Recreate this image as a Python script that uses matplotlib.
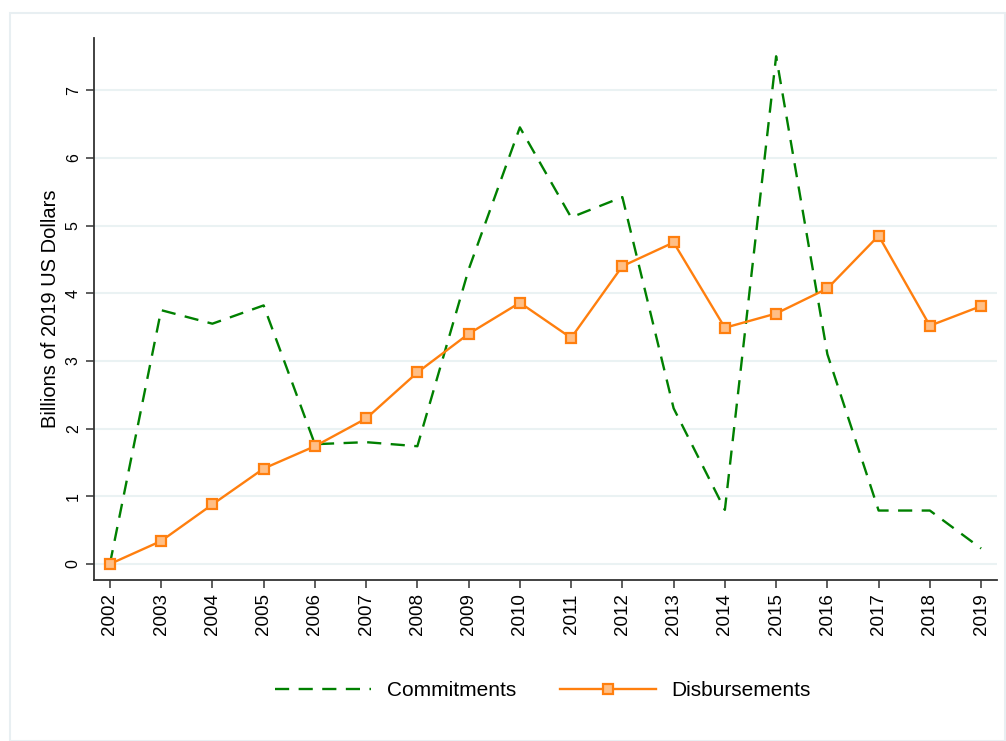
import matplotlib
matplotlib.use("Agg")
import matplotlib.pyplot as plt
from matplotlib.patches import Rectangle

years = list(range(2002, 2020))
commitments = [0.0, 3.75, 3.55, 3.82, 1.77, 1.80, 1.74, 4.35, 6.45, 5.12, 5.42, 2.30, 0.80, 7.50, 3.10, 0.79, 0.79, 0.23]
disbursements = [0.0, 0.34, 0.88, 1.41, 1.74, 2.15, 2.83, 3.40, 3.86, 3.34, 4.40, 4.75, 3.49, 3.70, 4.07, 4.85, 3.52, 3.81]
yticks = [0, 1, 2, 3, 4, 5, 6, 7]

plt.rcParams['font.family'] = ['Liberation Sans', 'DejaVu Sans']
fig = plt.figure(figsize=(10.06, 7.41), dpi=100)
fig.patches.append(Rectangle((10/1006, 0), 995/1006, (741-13)/741, transform=fig.transFigure,
                             fill=False, edgecolor='#e8eff2', linewidth=1.5))
ax = fig.add_axes([94/1006, (741-580)/741, (997-94)/1006, (580-38)/741])

ax.plot(years, commitments, color='#008000', linestyle=(0, (6, 4)), linewidth=1.7, label='Commitments')
ax.plot(years, disbursements, color='#ff7f0e', linewidth=1.7, marker='s', markersize=7,
        markerfacecolor='#ffbf86', markeredgecolor='#ff7f0e', markeredgewidth=1.6, label='Disbursements')

ax.set_xlim(2001.69, 2019.31)
ax.set_ylim(-0.236, 7.77)
ax.set_xticks(years)
ax.set_xticklabels([str(y) for y in years], rotation=90, fontsize=13.5)
ax.set_yticks(yticks)
ax.set_yticklabels([str(t) for t in yticks], rotation=90, fontsize=11.5, va='center')
ax.grid(axis='y', color='#eaf2f3', linewidth=1.5)
ax.set_axisbelow(True)
for s in ['top', 'right']:
    ax.spines[s].set_visible(False)
for s in ['left', 'bottom']:
    ax.spines[s].set_color('#333333')
    ax.spines[s].set_linewidth(1.3)
ax.tick_params(axis='both', length=6, width=1.1, color='#333333')
ax.set_ylabel('Billions of 2019 US Dollars', fontsize=14.5, labelpad=4)

fig.legend(loc='center', bbox_to_anchor=(543/1006, 1 - 691/741), ncol=2, frameon=False,
           fontsize=15, handlelength=4.6, columnspacing=2.1, handletextpad=0.77)

fig.savefig('out.png', dpi=100)
